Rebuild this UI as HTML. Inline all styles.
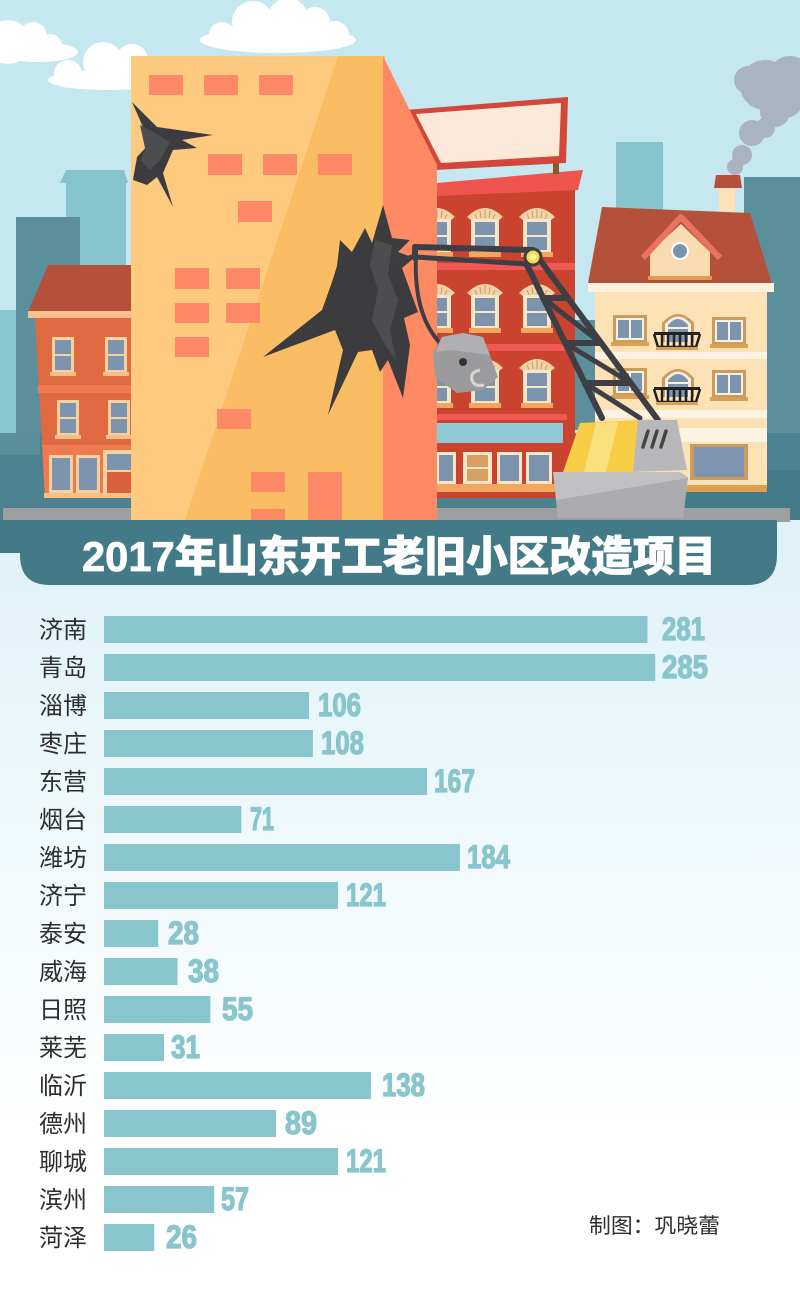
<!DOCTYPE html>
<html><head><meta charset="utf-8"><style>
html,body{margin:0;padding:0;background:#fff;}
svg{display:block;}
</style></head><body>
<svg width="800" height="1290" viewBox="0 0 800 1290" xmlns="http://www.w3.org/2000/svg">
<defs>
<linearGradient id="bg" x1="0" y1="0" x2="0" y2="1">
<stop offset="0" stop-color="#dff2f7"/>
<stop offset="0.8" stop-color="#ffffff"/>
</linearGradient>
<g id="aw">
<path d="M0,15 Q18,-3 36,15 L32,18 L4,18 Z" fill="#f1d3a6"/>
<path d="M8,12 L10,17 M13,9 L14,16 M18,7 L18,16 M23,9 L22,16 M28,12 L26,17" stroke="#c99e6c" stroke-width="1"/>
<rect x="4" y="17" width="28" height="34" fill="#f7e6c8"/>
<rect x="8" y="20" width="20" height="13" fill="#7d94ae"/>
<rect x="8" y="35" width="20" height="13" fill="#7d94ae"/>
<rect x="2" y="50" width="32" height="5" fill="#f2a65f"/>
</g>
<g id="bw">
<rect x="0" y="0" width="22" height="36" fill="#f6d2a0"/>
<rect x="3" y="3" width="16" height="14" fill="#7d94ae"/>
<rect x="3" y="19" width="16" height="14" fill="#7d94ae"/>
<rect x="-2" y="35" width="26" height="4" fill="#f6c08a"/>
</g>
<g id="cw">
<rect x="0" y="0" width="34" height="28" fill="#c99b5e"/>
<rect x="3" y="3" width="28" height="22" fill="#f8f0e2"/>
<rect x="5" y="5" width="11" height="18" fill="#7d94ae"/>
<rect x="18" y="5" width="11" height="18" fill="#7d94ae"/>
<rect x="-2" y="27" width="38" height="4" fill="#d9a054"/>
</g>
<g id="ca">
<path d="M0,35 V16 Q16,-2 32,16 V35 Z" fill="#c99b5e"/>
<path d="M3,35 V17 Q16,2 29,17 V35 Z" fill="#f8f0e2"/>
<path d="M6,35 V18 Q16,6 26,18 V35 Z" fill="#7d94ae"/>
<rect x="6" y="20" width="20" height="2" fill="#f8f0e2"/>
<rect x="-8" y="25" width="46" height="3" fill="#222"/>
<path d="M-8,27 L-4,40 H34 L38,27" fill="none" stroke="#222" stroke-width="2.5"/>
<path d="M0,28 V40 M6,28 V40 M12,28 V40 M18,28 V40 M24,28 V40 M30,28 V40" stroke="#222" stroke-width="2.5"/>
<rect x="-6" y="40" width="42" height="3" fill="#d9a054"/>
</g>
</defs>

<!-- background -->
<rect x="0" y="0" width="800" height="1290" fill="#ffffff"/>
<rect x="0" y="520" width="800" height="770" fill="url(#bg)"/>

<!-- sky -->
<rect x="0" y="0" width="800" height="520" fill="#c5e8f0"/>

<!-- clouds -->
<g fill="#ffffff">
<circle cx="8" cy="42" r="22"/><circle cx="33" cy="36" r="14"/><circle cx="50" cy="46" r="12"/><ellipse cx="38" cy="52" rx="40" ry="10"/>
<circle cx="68" cy="74" r="14"/><circle cx="103" cy="62" r="20"/><circle cx="132" cy="60" r="16"/><circle cx="155" cy="74" r="11"/><ellipse cx="108" cy="80" rx="60" ry="10"/>
<circle cx="222" cy="35" r="13"/><circle cx="253" cy="22" r="21"/><circle cx="288" cy="18" r="20"/><circle cx="315" cy="22" r="15"/><circle cx="335" cy="35" r="14"/><ellipse cx="278" cy="40" rx="78" ry="13"/>
</g>

<!-- smoke -->
<g fill="#aab3c0">
<circle cx="765" cy="85" r="25"/><circle cx="748" cy="80" r="14"/><circle cx="790" cy="78" r="22"/><circle cx="775" cy="112" r="15"/><circle cx="785" cy="100" r="18"/>
<circle cx="752" cy="133" r="13"/><circle cx="765" cy="128" r="10"/><circle cx="742" cy="155" r="10"/><circle cx="735" cy="167" r="8"/>
</g>

<!-- background buildings -->
<rect x="66" y="176" width="60" height="344" fill="#86c4cd"/>
<polygon points="66,170 124,170 128,183 60,183" fill="#86c4cd"/>
<rect x="16" y="217" width="64" height="303" fill="#5b8f9c"/>
<rect x="0" y="310" width="16" height="130" fill="#88c5ce"/>
<rect x="616" y="142" width="47" height="200" fill="#86c4cd"/>
<rect x="744" y="177" width="56" height="343" fill="#5b8f9c"/>
<rect x="560" y="320" width="50" height="110" fill="#5b8f9c"/>
<rect x="0" y="433" width="800" height="87" fill="#4c8290"/>
<rect x="0" y="433" width="40" height="22" fill="#5a8e9b"/>
<rect x="680" y="470" width="120" height="50" fill="#437b88"/>

<!-- red building -->
<rect x="437" y="188" width="138" height="310" fill="#c9432f"/>
<polygon points="437,183 583,170 578,190 437,196" fill="#f0544f"/>
<rect x="437" y="263" width="138" height="7" fill="#f05854"/>
<rect x="437" y="344" width="138" height="7" fill="#f05854"/>
<rect x="437" y="414" width="130" height="6" fill="#f05854"/>
<rect x="437" y="423" width="126" height="20" fill="#8fc9d6"/>
<use href="#aw" x="419" y="202"/><use href="#aw" x="467" y="202"/><use href="#aw" x="519" y="202"/>
<use href="#aw" x="419" y="278"/><use href="#aw" x="467" y="278"/><use href="#aw" x="519" y="278"/>
<use href="#aw" x="419" y="353"/><use href="#aw" x="467" y="353"/><use href="#aw" x="519" y="353"/>
<g>
<rect x="436" y="452" width="20" height="32" fill="#f7e6c8"/><rect x="439" y="455" width="14" height="26" fill="#7d94ae"/>
<rect x="463" y="452" width="29" height="32" fill="#f7e6c8"/><rect x="467" y="455" width="21" height="12" fill="#d9a064"/><rect x="467" y="469" width="21" height="12" fill="#d9a064"/>
<rect x="497" y="452" width="25" height="32" fill="#f7e6c8"/><rect x="500" y="455" width="19" height="26" fill="#7d94ae"/>
<rect x="526" y="452" width="26" height="32" fill="#f7e6c8"/><rect x="529" y="455" width="20" height="26" fill="#7d94ae"/>
<rect x="437" y="484" width="128" height="8" fill="#f2a65f"/>
</g>

<!-- billboard -->
<rect x="553" y="160" width="6" height="14" fill="#8b5a2b"/>
<polygon points="405,110 568,97 566,163 435,170" fill="#d2473a"/>
<polygon points="416,114 561,103 559,156 441,163" fill="#fde9da"/>

<!-- cream house -->
<rect x="595" y="288" width="172" height="200" fill="#fde2b6"/>
<rect x="719" y="185" width="16" height="37" fill="#fde2b6"/>
<polygon points="716,175 740,175 742,188 714,188" fill="#b5513a"/>
<polygon points="602,207 750,213 773,287 588,283" fill="#b5513a"/>
<rect x="588" y="283" width="186" height="9" fill="#fdf1de"/>
<polygon points="650,252 681,224 710,252 710,277 650,277" fill="#f8dbb0"/>
<path d="M643,258 L681,217 L720,258" fill="none" stroke="#e8735f" stroke-width="6" stroke-linejoin="round"/>
<rect x="648" y="276" width="64" height="4" fill="#d9a054"/>
<circle cx="680" cy="251" r="9" fill="#ffffff"/><circle cx="680" cy="251" r="7" fill="#7d94ae"/>
<rect x="595" y="352" width="172" height="7" fill="#fdf3e2"/>
<rect x="595" y="410" width="172" height="8" fill="#fdf3e2"/>
<rect x="595" y="428" width="172" height="14" fill="#fdf3e2"/>
<use href="#cw" x="613" y="315"/><use href="#ca" x="662" y="307"/><use href="#cw" x="712" y="317"/>
<use href="#cw" x="613" y="368"/><use href="#ca" x="662" y="362"/><use href="#cw" x="712" y="370"/>
<rect x="690" y="444" width="58" height="36" fill="#c99b5e"/>
<rect x="694" y="447" width="50" height="30" fill="#7f95af"/>
<rect x="595" y="485" width="172" height="7" fill="#e0a050"/>

<!-- left brick building -->
<polygon points="48,265 131,265 131,312 28,312" fill="#b5513a"/>
<rect x="28" y="311" width="103" height="7" fill="#f7c28e"/>
<polygon points="35,318 131,318 131,498 45,498" fill="#df6a42"/>
<rect x="38" y="385" width="93" height="8" fill="#f07a4f"/>
<polygon points="42,445 131,445 131,498 45,498" fill="#f07a50"/>
<use href="#bw" x="52" y="337"/><use href="#bw" x="105" y="337"/>
<use href="#bw" x="57" y="400"/><use href="#bw" x="108" y="400"/>
<rect x="49" y="455" width="24" height="38" fill="#f6d2a0"/><rect x="52" y="458" width="18" height="32" fill="#7d94ae"/>
<rect x="76" y="455" width="24" height="38" fill="#f6d2a0"/><rect x="79" y="458" width="18" height="32" fill="#7d94ae"/>
<rect x="103" y="450" width="28" height="46" fill="#f6d2a0"/><rect x="107" y="454" width="24" height="16" fill="#7d94ae"/><rect x="107" y="472" width="24" height="24" fill="#d8603a"/>
<rect x="44" y="493" width="87" height="5" fill="#f6c08a"/>

<!-- road -->
<rect x="3" y="508" width="787" height="14" fill="#9d9fa1"/>

<!-- main building -->
<rect x="131" y="56" width="254" height="464" fill="#fdca7f"/>
<polygon points="338,56 385,56 385,520 185,520" fill="#fbbd63"/>
<polygon points="383,56 437,165 437,520 383,520" fill="#fe8a63"/>
<g fill="#fe8966">
<rect x="149" y="75" width="34" height="20"/><rect x="204" y="75" width="34" height="20"/><rect x="259" y="75" width="34" height="20"/>
<rect x="208" y="154" width="34" height="21"/><rect x="263" y="154" width="34" height="21"/><rect x="318" y="154" width="34" height="21"/>
<rect x="238" y="201" width="34" height="21"/>
<rect x="175" y="268" width="34" height="21"/><rect x="226" y="268" width="34" height="21"/>
<rect x="175" y="303" width="34" height="20"/><rect x="226" y="303" width="34" height="20"/>
<rect x="175" y="337" width="34" height="20"/>
<rect x="217" y="409" width="34" height="20"/>
<rect x="251" y="472" width="34" height="20"/><rect x="308" y="472" width="34" height="48"/>
<rect x="251" y="509" width="34" height="11"/>
</g>

<!-- cracks -->
<polygon points="132,102 157,127 213,135 182,140 197,148 173,150 163,173 173,207 157,177 147,185 133,180 137,157 150,143" fill="#3c3c3e"/>
<polygon points="140,125 157,134 170,142 160,160 150,170 141,160 145,148" fill="#4d4d50"/>
<polygon points="383,205 392,238 410,240 398,252 414,258 402,268 418,312 404,318 410,345 403,398 388,360 380,372 372,350 358,352 328,415 343,350 335,330 263,357 322,310 332,282 337,266 340,240 352,252 365,228 372,243" fill="#3c3c3e"/>
<polygon points="375,240 392,245 388,275 398,300 390,330 396,360 385,345 372,320 378,290 370,265" fill="#4d4d50"/>

<!-- crane -->
<g stroke="#3d3f44" stroke-linecap="round" stroke-linejoin="round" fill="none">
<path d="M415,247 L533,250" stroke-width="6"/>
<path d="M415,257 L527,264" stroke-width="5"/>
<path d="M415,247 L415,258" stroke-width="6"/>
<path d="M393,262 L415,255" stroke-width="3"/>
<path d="M416,256 C414,300 425,330 445,348" stroke-width="4"/>
<path d="M527,265 L602,418" stroke-width="6"/>
<path d="M540,260 L658,420" stroke-width="6"/>
<path d="M543,298 L568,298 M565,343 L601,343 M585,383 L631,383" stroke-width="6"/>
<path d="M543,298 L601,343 M565,343 L631,383 M585,383 L640,418" stroke-width="5"/>
</g>
<circle cx="533" cy="257" r="8" fill="#f7d94a" stroke="#3d3f44" stroke-width="3"/>
<circle cx="533" cy="257" r="3.5" fill="#fff3a8"/>

<!-- wrecking ball -->
<polygon points="442,337 463,333 483,337 498,377 483,390 457,393 435,377 433,353" fill="#9b9b9d"/>
<polygon points="442,337 463,333 483,337 490,355 450,350 436,352" fill="#b0b0b2"/>
<circle cx="463" cy="362" r="4" fill="#333"/>
<path d="M480,370 Q470,372 472,380 Q474,387 484,385" fill="none" stroke="#d6d6d6" stroke-width="3"/>

<!-- excavator -->
<polygon points="580,423 640,420 633,472 563,472" fill="#f7cd45"/>
<polygon points="596,423 618,422 606,472 584,472" fill="#fbe07e"/>
<polygon points="638,420 677,420 687,470 633,472" fill="#b8b8ba"/>
<path d="M648,431 L643,447 M657,431 L652,447 M666,431 L661,447" stroke="#444" stroke-width="3.5" stroke-linecap="round"/>
<polygon points="553,472 680,472 688,477 683,518 558,518" fill="#c0c0c2"/>
<polygon points="556,500 688,478 683,518 558,518" fill="#acacae"/>

<!-- banner -->
<path d="M0,520 H777 V555 Q777,585 747,585 H50 Q20,585 20,555 V553 H0 Z" fill="#437a87"/>
<text x="82" y="571" textLength="634" lengthAdjust="spacingAndGlyphs" font-family="'Liberation Sans','Noto Sans CJK SC',sans-serif" font-weight="900" font-size="42" fill="#ffffff" stroke="#ffffff" stroke-width="0.8">2017年山东开工老旧小区改造项目</text>

<!-- bars -->
<g fill="#88c5cd">
<rect x="104" y="616" width="543.5" height="27"/>
<rect x="104" y="654" width="551.2" height="27"/>
<rect x="104" y="692" width="205" height="27"/>
<rect x="104" y="730" width="208.9" height="27"/>
<rect x="104" y="768" width="323" height="27"/>
<rect x="104" y="806" width="137.3" height="27"/>
<rect x="104" y="844" width="355.9" height="27"/>
<rect x="104" y="882" width="234" height="27"/>
<rect x="104" y="920" width="54.2" height="27"/>
<rect x="104" y="958" width="73.5" height="27"/>
<rect x="104" y="996" width="106.4" height="27"/>
<rect x="104" y="1034" width="60" height="27"/>
<rect x="104" y="1072" width="266.9" height="27"/>
<rect x="104" y="1110" width="172.1" height="27"/>
<rect x="104" y="1148" width="234" height="27"/>
<rect x="104" y="1186" width="110.2" height="27"/>
<rect x="104" y="1224" width="50.3" height="27"/>
</g>

<!-- city labels -->
<g font-family="'Liberation Sans','Noto Sans CJK SC',sans-serif" font-size="24" fill="#2e2e2e">
<text x="39" y="638">济南</text>
<text x="39" y="676">青岛</text>
<text x="39" y="714">淄博</text>
<text x="39" y="752">枣庄</text>
<text x="39" y="790">东营</text>
<text x="39" y="828">烟台</text>
<text x="39" y="866">潍坊</text>
<text x="39" y="904">济宁</text>
<text x="39" y="942">泰安</text>
<text x="39" y="980">威海</text>
<text x="39" y="1018">日照</text>
<text x="39" y="1056">莱芜</text>
<text x="39" y="1094">临沂</text>
<text x="39" y="1132">德州</text>
<text x="39" y="1170">聊城</text>
<text x="39" y="1208">滨州</text>
<text x="39" y="1246">菏泽</text>
</g>

<!-- values -->
<g font-family="'Liberation Sans',sans-serif" font-weight="bold" font-size="32" fill="#88c5cd" stroke="#88c5cd" stroke-width="1.3" stroke-linejoin="round">
<text x="662" y="640" textLength="43" lengthAdjust="spacingAndGlyphs">281</text>
<text x="662" y="678" textLength="46" lengthAdjust="spacingAndGlyphs">285</text>
<text x="318" y="716" textLength="43" lengthAdjust="spacingAndGlyphs">106</text>
<text x="321" y="754" textLength="43" lengthAdjust="spacingAndGlyphs">108</text>
<text x="434" y="792" textLength="41" lengthAdjust="spacingAndGlyphs">167</text>
<text x="250" y="830" textLength="24" lengthAdjust="spacingAndGlyphs">71</text>
<text x="467" y="868" textLength="43" lengthAdjust="spacingAndGlyphs">184</text>
<text x="346" y="906" textLength="40" lengthAdjust="spacingAndGlyphs">121</text>
<text x="168" y="944" textLength="31" lengthAdjust="spacingAndGlyphs">28</text>
<text x="188" y="982" textLength="31" lengthAdjust="spacingAndGlyphs">38</text>
<text x="222" y="1020" textLength="31" lengthAdjust="spacingAndGlyphs">55</text>
<text x="171" y="1058" textLength="29" lengthAdjust="spacingAndGlyphs">31</text>
<text x="382" y="1096" textLength="43" lengthAdjust="spacingAndGlyphs">138</text>
<text x="285" y="1134" textLength="32" lengthAdjust="spacingAndGlyphs">89</text>
<text x="346" y="1172" textLength="40" lengthAdjust="spacingAndGlyphs">121</text>
<text x="221" y="1210" textLength="28" lengthAdjust="spacingAndGlyphs">57</text>
<text x="166" y="1248" textLength="31" lengthAdjust="spacingAndGlyphs">26</text>
</g>

<!-- credit -->
<text x="589" y="1233" textLength="131" lengthAdjust="spacingAndGlyphs" font-family="'Noto Sans CJK SC',sans-serif" font-size="21" fill="#2e2e2e">制图：巩晓蕾</text>
</svg>
</body></html>
